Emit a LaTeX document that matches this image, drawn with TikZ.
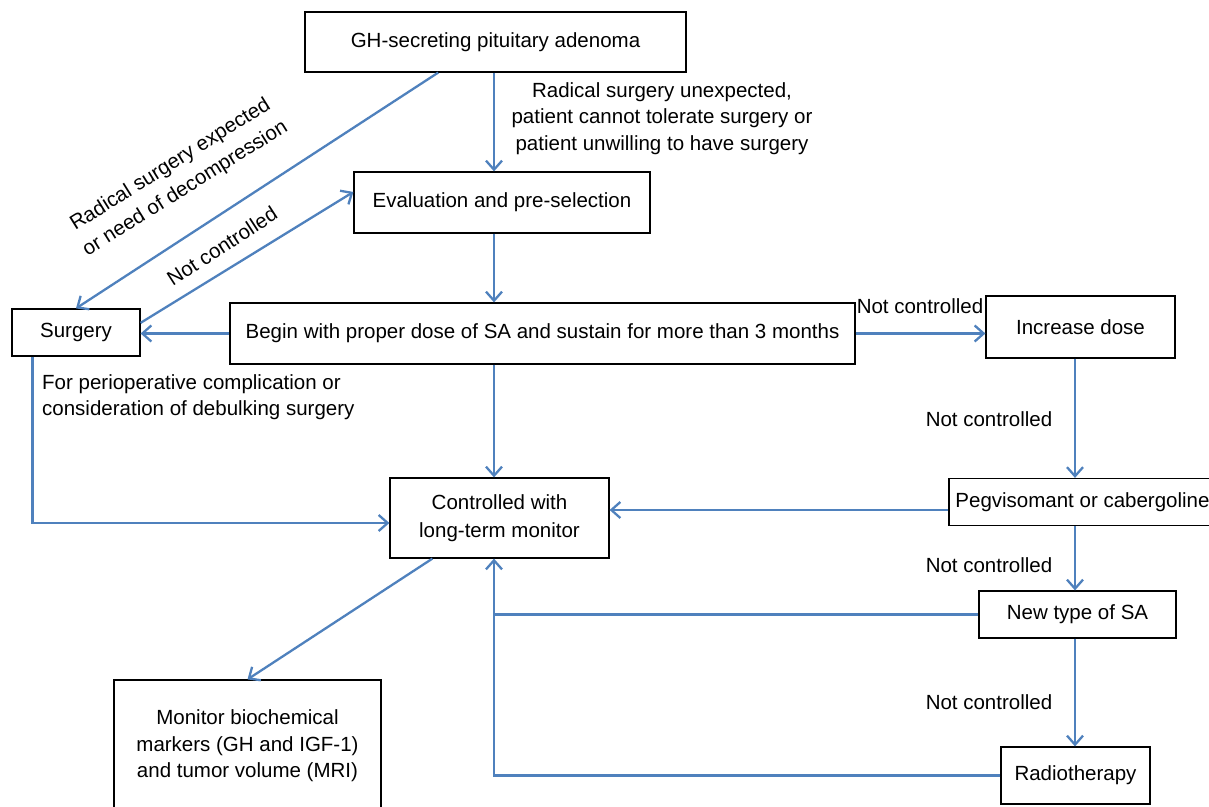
\documentclass[tikz,border=0pt]{standalone}
\usepackage{fontspec}
\setmainfont{Liberation Sans}
\usetikzlibrary{arrows.meta,calc}
\definecolor{arrowblue}{HTML}{4F81BD}
\begin{document}
\begin{tikzpicture}[x=1pt,y=-1pt,
 every node/.style={font=\fontsize{20.5}{26.5}\selectfont},
 wide/.style={font=\fontsize{20.5}{28}\selectfont},
 box/.style={draw=black,line width=1.2pt,fill=white,inner sep=0pt,align=center},
 arr/.style={draw=arrowblue,line width=2.3pt,-{Straight Barb[length=9pt,width=16pt]}},
 ln/.style={draw=arrowblue,line width=2.3pt},
 lbl/.style={align=center,inner sep=0pt}]
\useasboundingbox (0,0) rectangle (1209,806);

\node[box,minimum width=381pt,minimum height=60pt] (gh) at (495.5,42) {GH-secreting pituitary adenoma};
\node[box,minimum width=296pt,minimum height=61pt] (eval) at (502,202.5) {Evaluation and pre-selection};
\node[box,minimum width=625pt,minimum height=61pt] (begin) at (542.5,333.5) {Begin with proper dose of SA and sustain for more than 3 months};
\node[box,minimum width=128pt,minimum height=47pt] (surg) at (76,332.5) {Surgery};
\node[box,minimum width=189pt,minimum height=62pt] (inc) at (1080.5,327) {Increase dose};
\node[box,wide,minimum width=219pt,minimum height=80pt] (ctrl) at (499.5,518) {Controlled with\\long-term monitor};
\node[box,minimum width=267pt,minimum height=47pt] (peg) at (1082.5,502) {Pegvisomant or cabergoline};
\node[box,minimum width=197pt,minimum height=47pt] (newsa) at (1077.5,614.5) {New type of SA};
\node[box,minimum width=149pt,minimum height=57pt] (radio) at (1075.5,775.5) {Radiotherapy};
\node[box,minimum width=267pt,minimum height=132pt] (mon) at (247.5,746) {Monitor biochemical\\markers (GH and IGF-1)\\and tumor volume (MRI)};

\coordinate (spine) at (494,0);
\coordinate (rsp) at (1075,0);
\coordinate (pegout) at ($(peg.west)+(0,8)$);

\draw[arr] (spine |- gh.south) -- (spine |- eval.north);
\draw[arr] ($(gh.south west)!0.35!(gh.south east)$) -- (surg.north);
\draw[arr] ($(surg.north east)!0.3!(surg.south east)$) -- ($(eval.north west)!0.33!(eval.south west)$);
\draw[arr] (spine |- eval.south) -- (spine |- begin.north);
\draw[arr] (begin.west) -- (begin.west -| surg.east);
\draw[arr] (begin.east) -- (begin.east -| inc.west);
\draw[arr] (spine |- begin.south) -- (spine |- ctrl.north);
\draw[arr] ($(surg.south west)+(21,0)$) |- ($(ctrl.west)+(0,5)$);
\draw[arr] (rsp |- inc.south) -- (rsp |- peg.north);
\draw[arr] (pegout) -- (pegout -| ctrl.east);
\draw[arr] (rsp |- peg.south) -- (rsp |- newsa.north);
\draw[ln] (newsa.west) -- (newsa.west -| spine);
\draw[arr] (rsp |- newsa.south) -- (rsp |- radio.north);
\draw[arr] (radio.west) -| (spine |- ctrl.south);
\draw[arr] ($(ctrl.south west)+(43,0)$) -- (mon.north);

\node[lbl] (l1) at (662,118.5) {Radical surgery unexpected,\\patient cannot tolerate surgery or\\patient unwilling to have surgery};
\node[lbl,wide,rotate=32] (l2) at (178,177) {Radical surgery expected\\or need of decompression};
\node[lbl,rotate=33] (l3) at (222,246) {Not controlled};
\node[lbl,align=left,anchor=west] (l4) at (42,397) {For perioperative complication or\\consideration of debulking surgery};
\node[lbl] (l5) at (920,306) {Not controlled};
\node[lbl] (l6) at (989,419) {Not controlled};
\node[lbl] (l7) at (989,565) {Not controlled};
\node[lbl] (l8) at (989,702) {Not controlled};
\end{tikzpicture}
\end{document}
